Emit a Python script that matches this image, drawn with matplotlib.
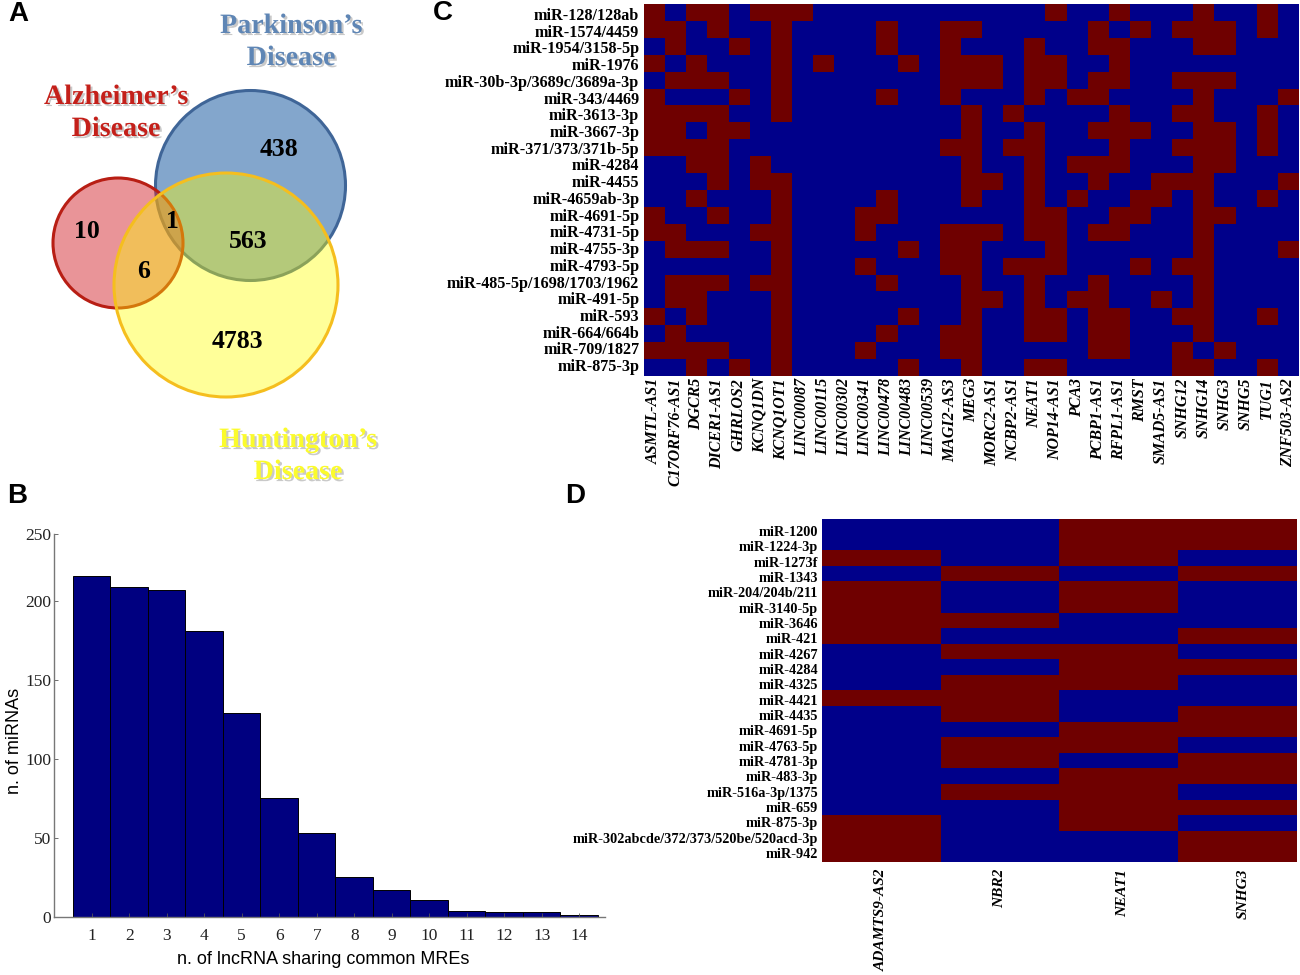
import matplotlib
matplotlib.use("Agg")
import matplotlib.patheffects as pe
import matplotlib.pyplot as plt
import numpy as np
from matplotlib.colors import ListedColormap
from matplotlib.patches import Circle
from matplotlib.transforms import ScaledTranslation

W, H = 1300, 975
SERIF = "Liberation Serif"
SANS = "Liberation Sans"
NAVY = "#00008a"
MAROON = "#6f0000"

# panel A
disease_names = ["Alzheimer\u2019s\nDisease", "Parkinson\u2019s\nDisease", "Huntington\u2019s\nDisease"]
venn_counts = ["10", "438", "4783", "1", "6", "563"]

# panel B
shared_lncrna = list(range(1, 15))
n_mirnas = [216, 209, 207, 181, 129, 75, 53, 25, 17, 11, 4, 3, 3, 1]
y_tick_values = [0, 50, 100, 150, 200]
# the reference squeezes its top label on to the end of the axis
y_axis_top = 242.4
y_top_label = "250"

# panel C
c_rows = [
    "miR-128/128ab", "miR-1574/4459", "miR-1954/3158-5p", "miR-1976",
    "miR-30b-3p/3689c/3689a-3p", "miR-343/4469", "miR-3613-3p", "miR-3667-3p",
    "miR-371/373/371b-5p", "miR-4284", "miR-4455", "miR-4659ab-3p",
    "miR-4691-5p", "miR-4731-5p", "miR-4755-3p", "miR-4793-5p",
    "miR-485-5p/1698/1703/1962", "miR-491-5p", "miR-593", "miR-664/664b",
    "miR-709/1827", "miR-875-3p",
]
c_cols = [
    "ASMTL-AS1", "C17ORF76-AS1", "DGCR5", "DICER1-AS1", "GHRLOS2", "KCNQ1DN",
    "KCNQ1OT1", "LINC00087", "LINC00115", "LINC00302", "LINC00341", "LINC00478",
    "LINC00483", "LINC00539", "MAGI2-AS3", "MEG3", "MORC2-AS1", "NCBP2-AS1",
    "NEAT1", "NOP14-AS1", "PCA3", "PCBP1-AS1", "RFPL1-AS1", "RMST", "SMAD5-AS1",
    "SNHG12", "SNHG14", "SNHG3", "SNHG5", "TUG1", "ZNF503-AS2",
]
# column indices of the red cells in each row
c_hits = [
    [0, 2, 3, 5, 6, 7, 19, 22, 26, 29],
    [0, 1, 3, 6, 11, 14, 15, 21, 23, 25, 26, 27, 29],
    [1, 4, 6, 11, 14, 18, 21, 22, 26, 27],
    [0, 2, 6, 8, 12, 14, 15, 16, 18, 19, 22],
    [1, 2, 3, 6, 14, 15, 16, 18, 19, 21, 22, 25, 26, 27],
    [0, 4, 6, 11, 14, 18, 20, 21, 26, 30],
    [0, 1, 2, 3, 6, 15, 17, 22, 25, 26, 29],
    [0, 1, 3, 4, 15, 18, 21, 22, 23, 26, 27, 29],
    [0, 1, 2, 3, 14, 15, 17, 18, 22, 25, 26, 27, 29],
    [2, 3, 5, 15, 18, 20, 21, 22, 26, 27],
    [3, 5, 6, 15, 16, 18, 21, 24, 25, 26, 30],
    [2, 6, 11, 15, 18, 20, 23, 24, 26, 29],
    [0, 3, 6, 10, 11, 18, 19, 22, 23, 26, 27],
    [0, 1, 5, 6, 10, 14, 15, 16, 18, 19, 21, 22, 26],
    [1, 2, 3, 6, 12, 14, 15, 19, 26, 30],
    [6, 10, 14, 15, 17, 18, 19, 23, 25, 26],
    [1, 2, 3, 5, 6, 11, 15, 18, 21, 26],
    [1, 2, 6, 15, 16, 18, 20, 21, 24, 26],
    [0, 2, 6, 12, 15, 18, 19, 21, 22, 25, 26, 29],
    [1, 6, 11, 14, 15, 18, 19, 21, 22, 26],
    [0, 1, 2, 3, 6, 10, 14, 15, 21, 22, 25, 27],
    [2, 4, 6, 12, 15, 18, 19, 25, 26, 29],
]

# panel D
d_rows = [
    "miR-1200", "miR-1224-3p", "miR-1273f", "miR-1343", "miR-204/204b/211",
    "miR-3140-5p", "miR-3646", "miR-421", "miR-4267", "miR-4284", "miR-4325",
    "miR-4421", "miR-4435", "miR-4691-5p", "miR-4763-5p", "miR-4781-3p",
    "miR-483-3p", "miR-516a-3p/1375", "miR-659", "miR-875-3p",
    "miR-302abcde/372/373/520be/520acd-3p", "miR-942",
]
d_cols = ["ADAMTS9-AS2", "NBR2", "NEAT1", "SNHG3"]
d_hits = [
    [2, 3], [2, 3], [0, 2], [1, 3], [0, 2], [0, 2], [0, 1], [0, 3], [1, 2], [2, 3], [1, 2],
    [0, 1], [1, 3], [2, 3], [1, 2], [1, 3], [2, 3], [1, 2], [2, 3], [0, 2], [0, 3], [0, 3],
]


def px_axes(fig, left, top, right, bottom):
    """Axes placed by pixel box, y counted from the top of the image."""
    return fig.add_axes([left / W, 1 - bottom / H, (right - left) / W, (bottom - top) / H])


def plot_venn(canvas):
    spots = [(118, 243, 65), (250.5, 185.5, 95), (226, 285, 112)]
    faces = [(0.835, 0.17, 0.2, 0.5), "#83a6cc", (1, 1, 0, 0.4)]
    edges = ["#b81e14", "#3f6597", "#f5be1e"]
    orders = [2, 1, 3]
    for i in range(3):
        x, y, r = spots[i]
        canvas.add_patch(Circle((x, y), r, fc=faces[i], ec=edges[i], lw=2.2, zorder=orders[i]))

    count_spots = [(87, 232), (279, 150), (237, 342), (172, 222), (144, 271), (248, 242)]
    for txt, (x, y) in zip(venn_counts, count_spots):
        canvas.text(x, y, txt, family=SERIF, weight="bold", fontsize=18.5, ha="center",
                    va="center", color="black", zorder=6)

    name_spots = [(116, 113.5), (291, 42.5), (298, 456.5)]
    name_colors = ["#c4201a", "#5f86b5", "#fbfb2c"]
    for txt, (x, y), col in zip(disease_names, name_spots, name_colors):
        t = canvas.text(x, y, txt, family=SERIF, weight="bold", fontsize=20.2, ha="center",
                        va="center", color=col, linespacing=1.37, zorder=6)
        t.set_path_effects([
            pe.SimplePatchShadow(offset=(1.5, -1.5), shadow_rgbFace="#888888", alpha=0.45),
            pe.Normal(),
        ])


def plot_bars(fig):
    ax = px_axes(fig, 54, 534, 605, 917)
    ax.bar(shared_lncrna, n_mirnas, width=1.0, color="#000080", edgecolor="black", linewidth=0.7)
    ax.set_xlim(-0.007, 14.69)
    ax.set_ylim(0, y_axis_top)
    ax.set_xticks(shared_lncrna)
    ax.set_yticks(y_tick_values + [y_axis_top], [str(v) for v in y_tick_values] + [y_top_label])
    for side in ["top", "right"]:
        ax.spines[side].set_visible(False)
    for side in ["left", "bottom"]:
        ax.spines[side].set_color("#777777")
        ax.spines[side].set_linewidth(1.0)
    ax.tick_params(axis="both", direction="in", length=3, width=0.6, color="#555555",
                   labelsize=12.5, labelfontfamily=SERIF, labelcolor="#222222")
    ax.tick_params(axis="x", pad=8)
    ax.tick_params(axis="y", pad=2)
    ax.set_xlabel("n. of lncRNA sharing common MREs", family=SANS, fontsize=13)
    ax.set_ylabel("n. of miRNAs", family=SANS, fontsize=13)
    ax.xaxis.set_label_coords(0.488, -0.088)
    ax.yaxis.set_label_coords(-0.057, 0.46)


def plot_heat(fig, box, rows, cols, hits, row_size, col_size, pad, row_span, col_shift=None):
    mat = np.zeros((len(rows), len(cols)))
    for i, red in enumerate(hits):
        mat[i, red] = 1
    ax = px_axes(fig, *box)
    ax.imshow(mat, cmap=ListedColormap([NAVY, MAROON]), aspect="auto", interpolation="nearest")
    # row labels sit on a slightly tighter pitch than the cells
    ax.set_yticks(np.linspace(row_span[0], row_span[1], len(rows)), rows, family=SERIF,
                  weight="bold", fontsize=row_size)
    ax.set_xticks(range(len(cols)), cols, family=SERIF, weight="bold", style="italic",
                  fontsize=col_size, rotation=90)
    ax.set_ylim(len(rows) - 0.5, -0.5)
    ax.tick_params(axis="both", length=0)
    ax.tick_params(axis="y", pad=3)
    ax.tick_params(axis="x", pad=pad)
    for s in ax.spines.values():
        s.set_visible(False)
    if col_shift:
        for lab, dx in zip(ax.get_xticklabels(), col_shift):
            lab.set_transform(lab.get_transform() + ScaledTranslation(dx / 100, 0, fig.dpi_scale_trans))


def main():
    fig = plt.figure(figsize=(W / 100, H / 100), dpi=100)
    canvas = fig.add_axes([0, 0, 1, 1])
    canvas.set_xlim(0, W)
    canvas.set_ylim(H, 0)
    canvas.axis("off")

    plot_venn(canvas)
    plot_bars(fig)
    plot_heat(fig, (643.5, 4, 1298.5, 376), c_rows, c_cols, c_hits, 11.6, 11.5, 1.5, (0.09, 20.86))
    plot_heat(fig, (822, 519, 1296, 862), d_rows, d_cols, d_hits, 10.3, 11.1, 5, (0.27, 20.92),
              col_shift=[0, 0, 4, 6])

    for letter, x, y in [("A", 8, 14), ("B", 7, 496), ("C", 433, 13), ("D", 565, 496)]:
        canvas.text(x, y, letter, family=SANS, weight="bold", fontsize=20, va="center")

    fig.savefig("out.png", dpi=100)


main()
